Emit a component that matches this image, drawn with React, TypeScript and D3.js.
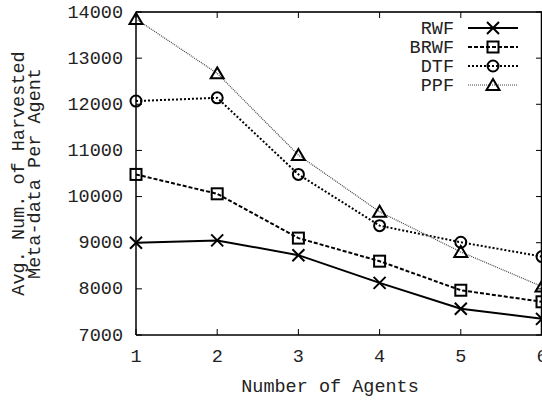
import React from "react";
import * as d3 from "d3";

const agents = [1, 2, 3, 4, 5, 6];
const rwf = [9000, 9050, 8730, 8130, 7570, 7350];
const brwf = [10480, 10060, 9100, 8600, 7970, 7720];
const dtf = [12070, 12140, 10480, 9370, 9010, 8700];
const ppf = [13850, 12670, 10900, 9670, 8800, 8050];
const yTicks = [7000, 8000, 9000, 10000, 11000, 12000, 13000, 14000];
const xTicks = [1, 2, 3, 4, 5, 6];

const series = [
  { name: "RWF", values: rwf, marker: "x", dash: "", width: 2, color: "#000" },
  { name: "BRWF", values: brwf, marker: "square", dash: "4,2", width: 2, color: "#000" },
  { name: "DTF", values: dtf, marker: "circle", dash: "2,2", width: 2, color: "#000" },
  { name: "PPF", values: ppf, marker: "triangle", dash: "1,1", width: 1.2, color: "#444" },
];

const W = 542, H = 401;
const L = 136, R = 542, T = 12, B = 335;
const font = "'Liberation Mono', 'Courier New', monospace";

function Marker({ type, x, y }: { type: string; x: number; y: number }) {
  const s = 6;
  if (type === "x")
    return (
      <path d={`M${x - s},${y - s}L${x + s},${y + s}M${x - s},${y + s}L${x + s},${y - s}`} stroke="#000" strokeWidth={2} fill="none" />
    );
  if (type === "square")
    return <rect x={x - 5.5} y={y - 5.5} width={11} height={11} stroke="#000" strokeWidth={2} fill="none" />;
  if (type === "circle") return <circle cx={x} cy={y} r={5.5} stroke="#000" strokeWidth={2} fill="none" />;
  return <path d={`M${x},${y - 6}L${x + 6.5},${y + 5}L${x - 6.5},${y + 5}Z`} stroke="#000" strokeWidth={2} fill="none" />;
}

export default function App() {
  const x = d3.scaleLinear().domain([1, 6]).range([L, R]);
  const y = d3.scaleLinear().domain([7000, 14000]).range([B, T]);
  const line = d3
    .line<number>()
    .x((_, i) => x(agents[i]))
    .y((d) => y(d));
  return (
    <svg width={W} height={H} style={{ position: "absolute", left: 0, top: 0 }}>
      <rect width={W} height={H} fill="#fff" />
      {/* frame */}
      <line x1={L} x2={R} y1={T} y2={T} stroke="#333" strokeWidth={2} />
      <line x1={L} x2={R} y1={B} y2={B} stroke="#000" strokeWidth={1.5} />
      <line x1={L} x2={L} y1={T} y2={B} stroke="#000" strokeWidth={1.5} />
      <line x1={R - 0.5} x2={R - 0.5} y1={T} y2={B} stroke="#000" strokeWidth={1.5} />
      {yTicks.map((t) => (
        <g key={t}>
          <line x1={L} x2={L + 6} y1={y(t)} y2={y(t)} stroke="#000" strokeWidth={1} />
          <line x1={R - 6} x2={R} y1={y(t)} y2={y(t)} stroke="#000" strokeWidth={1} />
          <text x={123} y={y(t) + 5.5} textAnchor="end" fontFamily={font} fontSize={18.5} fill="#222">
            {t}
          </text>
        </g>
      ))}
      {xTicks.map((t) => (
        <g key={t}>
          <line x1={x(t)} x2={x(t)} y1={B} y2={B - 6} stroke="#000" strokeWidth={1} />
          <line x1={x(t)} x2={x(t)} y1={T} y2={T + 6} stroke="#000" strokeWidth={1} />
          <text x={x(t)} y={362} textAnchor="middle" fontFamily={font} fontSize={18.5} fill="#222">
            {t}
          </text>
        </g>
      ))}
      <text x={330} y={392} textAnchor="middle" fontFamily={font} fontSize={18.5} fill="#222">
        Number of Agents
      </text>
      <g transform={`translate(0,${(T + B) / 2}) rotate(-90)`}>
        <text x={0} y={24} textAnchor="middle" fontFamily={font} fontSize={18.5} fill="#222">
          Avg. Num. of Harvested
        </text>
        <text x={0} y={40} textAnchor="middle" fontFamily={font} fontSize={18.5} fill="#222">
          Meta-data Per Agent
        </text>
      </g>
      {series.map((s) => (
        <g key={s.name}>
          <path d={line(s.values) || ""} fill="none" stroke={s.color} strokeWidth={s.width} strokeDasharray={s.dash} />
          {s.values.map((v, i) => (
            <Marker key={i} type={s.marker} x={x(agents[i])} y={y(v)} />
          ))}
        </g>
      ))}
      {series.map((s, i) => {
        const ly = 28 + i * 19;
        return (
          <g key={s.name}>
            <text x={454} y={ly + 5.5} textAnchor="end" fontFamily={font} fontSize={18.5} fill="#222">
              {s.name}
            </text>
            <line x1={468} x2={518} y1={ly} y2={ly} stroke={s.color} strokeWidth={s.width} strokeDasharray={s.dash} />
            <Marker type={s.marker} x={493} y={ly} />
          </g>
        );
      })}
    </svg>
  );
}
